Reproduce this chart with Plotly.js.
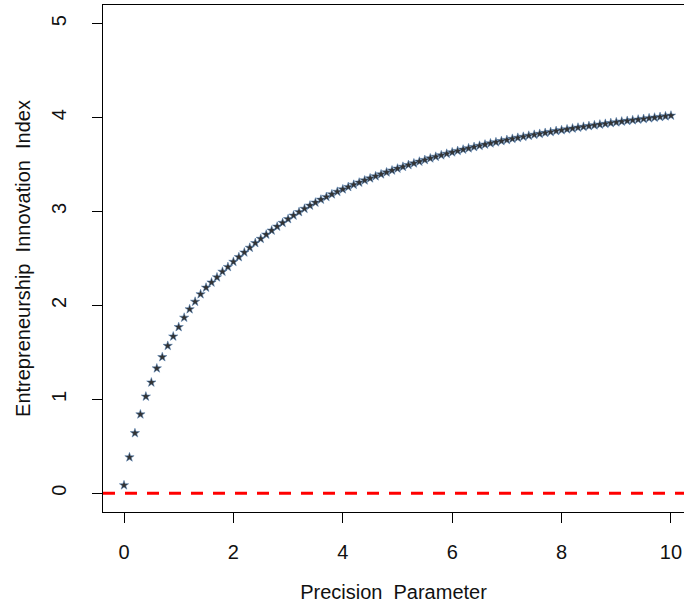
<!DOCTYPE html>
<html>
<head>
<meta charset="utf-8">
<script src="https://cdn.plot.ly/plotly-3.0.1.min.js"></script>
<style>html,body{margin:0;padding:0;background:#fff;}#chart{width:684px;height:606px;}</style>
</head>
<body>
<div id="chart"></div>
<script>
const precision = [0.0,0.1,0.2,0.3,0.4,0.5,0.6,0.7,0.8,0.9,
  1.0,1.1,1.2,1.3,1.4,1.5,1.6,1.7,1.8,1.9,
  2.0,2.1,2.2,2.3,2.4,2.5,2.6,2.7,2.8,2.9,
  3.0,3.1,3.2,3.3,3.4,3.5,3.6,3.7,3.8,3.9,
  4.0,4.1,4.2,4.3,4.4,4.5,4.6,4.7,4.8,4.9,
  5.0,5.1,5.2,5.3,5.4,5.5,5.6,5.7,5.8,5.9,
  6.0,6.1,6.2,6.3,6.4,6.5,6.6,6.7,6.8,6.9,
  7.0,7.1,7.2,7.3,7.4,7.5,7.6,7.7,7.8,7.9,
  8.0,8.1,8.2,8.3,8.4,8.5,8.6,8.7,8.8,8.9,
  9.0,9.1,9.2,9.3,9.4,9.5,9.6,9.7,9.8,9.9,10.0];
const innovationIndex = [0.085,0.383,0.640,0.840,1.030,1.180,1.330,1.450,1.570,1.670,
  1.770,1.870,1.960,2.040,2.120,2.190,2.245,2.300,2.360,2.410,
  2.465,2.515,2.565,2.615,2.665,2.710,2.755,2.798,2.840,2.880,
  2.920,2.958,2.995,3.030,3.064,3.096,3.127,3.156,3.184,3.211,
  3.237,3.262,3.286,3.309,3.332,3.354,3.376,3.397,3.418,3.438,
  3.458,3.477,3.496,3.514,3.532,3.550,3.567,3.584,3.600,3.616,
  3.631,3.646,3.660,3.674,3.688,3.701,3.714,3.727,3.739,3.751,
  3.763,3.775,3.786,3.797,3.808,3.818,3.828,3.838,3.848,3.858,
  3.867,3.876,3.885,3.894,3.903,3.911,3.919,3.927,3.935,3.943,
  3.951,3.959,3.966,3.973,3.980,3.987,3.994,4.001,4.008,4.015,4.022];
const referenceLevel = 0;
const xTicks = [0,2,4,6,8,10];
const yTicks = [0,1,2,3,4,5];

const font = {family: 'Liberation Sans, Arial, sans-serif', size: 20, color: '#111'};
const titleFont = {family: 'Liberation Sans, Arial, sans-serif', size: 20, color: '#111'};

const trace = {
  x: precision, y: innovationIndex, type: 'scatter', mode: 'markers',
  marker: {symbol: 'star', size: 7, color: '#333333', line: {width: 0.5, color: '#4a7bb0'}},
  hoverinfo: 'x+y'
};

const layout = {
  width: 684, height: 606,
  margin: {l: 103, r: 0, t: 5, b: 94},
  paper_bgcolor: '#fff', plot_bgcolor: '#fff',
  showlegend: false,
  font: font,
  xaxis: {
    range: [-0.384, 10.238], tickvals: xTicks, ticktext: xTicks.map(String),
    showgrid: false, zeroline: false, showline: true, mirror: true,
    linecolor: '#000', linewidth: 1, ticks: 'outside', ticklen: 10, tickcolor: '#000', tickwidth: 1,
    ticklabelstandoff: 12, tickfont: font,
    title: {text: 'Precision\u00a0 Parameter', font: titleFont, standoff: 22}
  },
  yaxis: {
    range: [-0.2, 5.2], tickvals: yTicks, ticktext: yTicks.map(String),
    showgrid: false, zeroline: false, showline: true, mirror: false,
    linecolor: '#000', linewidth: 1, ticks: 'outside', ticklen: 10, tickcolor: '#000', tickwidth: 1,
    tickangle: -90, ticklabelstandoff: 18, tickfont: font,
    title: {text: 'Entrepreneurship\u00a0 Innovation\u00a0 Index', font: titleFont, standoff: 12}
  },
  shapes: [{
    type: 'line', xref: 'paper', x0: 0, x1: 1, yref: 'y', y0: referenceLevel, y1: referenceLevel,
    line: {color: '#ff0000', width: 3, dash: '12px,10px'}
  }]
};

Plotly.newPlot('chart', [trace], layout, {displayModeBar: false, staticPlot: true});
</script>
</body>
</html>
